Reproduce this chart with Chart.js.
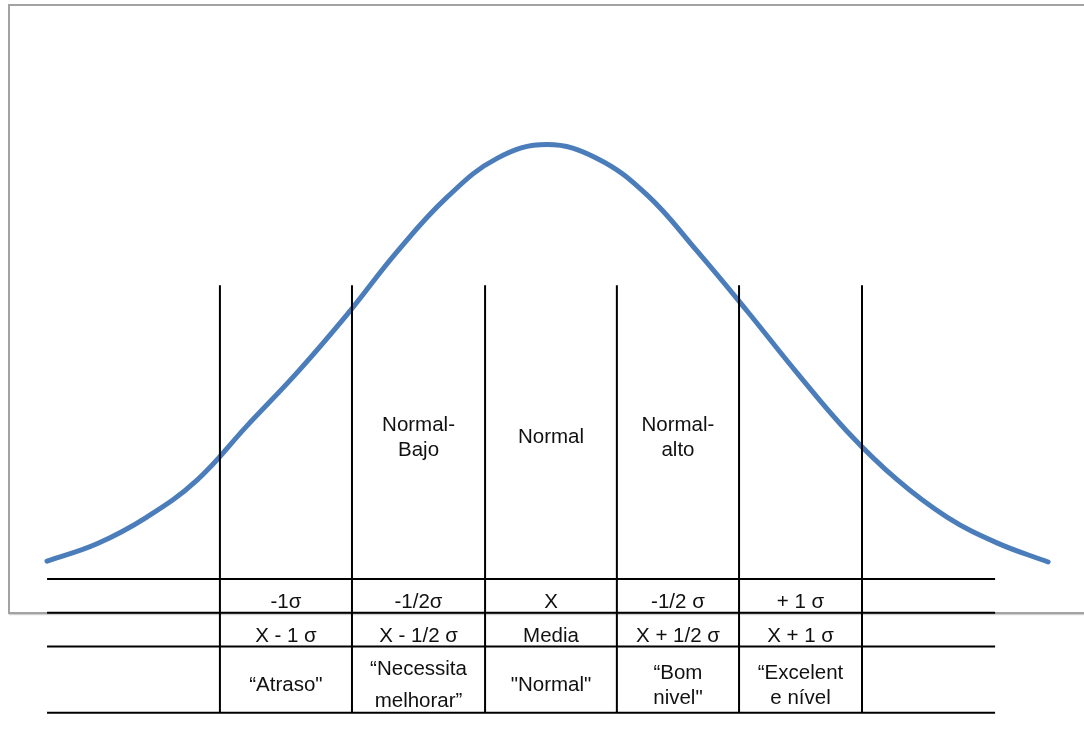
<!DOCTYPE html>
<html>
<head>
<meta charset="utf-8">
<script src="https://cdn.jsdelivr.net/npm/chart.js@4/dist/chart.umd.min.js"></script>
<style>
  html, body { margin: 0; padding: 0; background: #ffffff; overflow: hidden; }
  #wrap { position: relative; width: 1084px; height: 756px; }
  #frame {
    position: absolute; left: 8px; top: 4px; width: 1110px; height: 610px;
    box-sizing: border-box; border: 2px solid #a3a3a3;
    box-shadow: 1px 1px 1px #d0d0d0;
  }
  #c { position: absolute; left: 0; top: 0; }
</style>
</head>
<body>
<div id="wrap">
  <div id="frame"></div>
  <canvas id="c" width="1084" height="756"></canvas>
</div>
<script>
// ---- Data (x in σ units, y in relative height) ----
const curveX = [-1.919, -1.727, -1.535, -1.342, -1.150, -0.958, -0.765, -0.573, -0.380, -0.188, 0.004,
                 0.197, 0.389, 0.581, 0.774, 0.966, 1.158, 1.351, 1.543, 1.735, 1.932];
const curveY = [0.065, 0.104, 0.164, 0.247, 0.369, 0.488, 0.619, 0.760, 0.883, 0.970, 1.001,
                0.970, 0.888, 0.762, 0.627, 0.488, 0.357, 0.248, 0.164, 0.106, 0.063];

// table column boundaries (σ units)
const boundaries = [-1.254, -0.746, -0.234, 0.273, 0.743, 1.216];
const boundaryTop = 0.685;
// table horizontal rule levels
const rowLines = [0.0247, -0.051, -0.127, -0.276];
const tableLeft = -1.919;
const tableRight = 1.728;

// labels
const zoneLabels = [[], ['Normal-', 'Bajo'], ['Normal'], ['Normal-', 'alto'], []];
const zoneLabelLevel = 0.3296;
const sigmaLabels = ['-1σ', '-1/2σ', 'X', '-1/2 σ', '+ 1 σ'];
const formulaLabels = ['X - 1 σ', 'X - 1/2 σ', 'Media', 'X + 1/2 σ', 'X + 1 σ'];
const levelLabels = [['“Atraso"'], ['“Necessita', 'melhorar”'], ['"Normal"'], ['“Bom', 'nivel"'], ['“Excelent', 'e nível']];
const levelLineGap = [0, 32, 0, 25, 25];

// ---- build datasets ----
const lineStyle = { borderColor: '#000000', borderWidth: 2, pointRadius: 0, showLine: true, fill: false, order: 1, tension: 0 };
const datasets = [];
boundaries.forEach(b => {
  datasets.push(Object.assign({ data: [{ x: b, y: boundaryTop }, { x: b, y: rowLines[rowLines.length - 1] }] }, lineStyle));
});
rowLines.forEach(r => {
  datasets.push(Object.assign({ data: [{ x: tableLeft, y: r }, { x: tableRight, y: r }] }, lineStyle));
});
datasets.push({
  data: curveX.map((x, i) => ({ x: x, y: curveY[i] })),
  borderColor: '#4a7dba', borderWidth: 5, pointRadius: 0, showLine: true, fill: false,
  tension: 0.4, order: 2, borderCapStyle: 'round', borderJoinStyle: 'round'
});

const labelPlugin = {
  id: 'labels',
  afterDatasetsDraw(chart) {
    const ctx = chart.ctx;
    const xs = chart.scales.x, ys = chart.scales.y;
    ctx.save();
    ctx.fillStyle = '#111111';
    ctx.font = '20.5px "Liberation Sans", Arial, sans-serif';
    ctx.textAlign = 'center';
    ctx.textBaseline = 'alphabetic';
    const cellX = i => (xs.getPixelForValue(boundaries[i]) + xs.getPixelForValue(boundaries[i + 1])) / 2;
    const drawLines = (lines, cx, mid, gap) => {
      const n = lines.length;
      lines.forEach((t, k) => {
        const y = mid + (k - (n - 1) / 2) * gap;
        ctx.fillText(t, cx, y);
      });
    };
    // zone labels above table
    const zy = ys.getPixelForValue(zoneLabelLevel);
    zoneLabels.forEach((lines, i) => drawLines(lines, cellX(i), zy, 24.7));
    // table rows
    const rowMid = r => (ys.getPixelForValue(rowLines[r]) + ys.getPixelForValue(rowLines[r + 1])) / 2;
    sigmaLabels.forEach((t, i) => drawLines([t], cellX(i), rowMid(0) + 12, 0));
    formulaLabels.forEach((t, i) => drawLines([t], cellX(i), rowMid(1) + 12, 0));
    levelLabels.forEach((lines, i) => drawLines(lines, cellX(i), rowMid(2) + 11.5, levelLineGap[i]));
    ctx.restore();
  }
};

new Chart(document.getElementById('c'), {
  type: 'scatter',
  data: { datasets: datasets },
  options: {
    responsive: false,
    devicePixelRatio: 1,
    animation: false,
    layout: { padding: 0 },
    plugins: { legend: { display: false }, tooltip: { enabled: false } },
    scales: {
      x: { type: 'linear', min: -2.1, max: 2.07, display: false },
      y: { type: 'linear', min: -0.373, max: 1.326, display: false }
    }
  },
  plugins: [labelPlugin]
});
</script>
</body>
</html>
